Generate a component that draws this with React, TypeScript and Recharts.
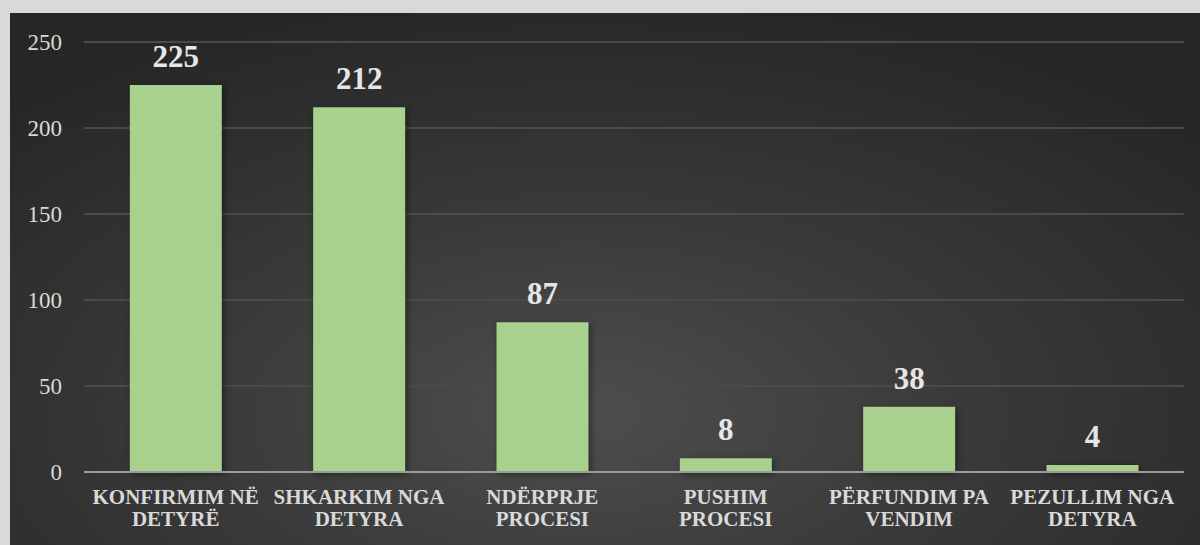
import { BarChart, Bar, XAxis, YAxis, CartesianGrid, LabelList } from "recharts";

const categories = [
  "KONFIRMIM NË DETYRË",
  "SHKARKIM NGA DETYRA",
  "NDËRPRJE PROCESI",
  "PUSHIM PROCESI",
  "PËRFUNDIM PA VENDIM",
  "PEZULLIM NGA DETYRA",
];
const counts = [225, 212, 87, 8, 38, 4];
const yTicks = [0, 50, 100, 150, 200, 250];

const data = categories.map((name, i) => ({ name, value: counts[i] }));

const serif = "'Liberation Serif', 'Times New Roman', serif";

// split the label at the last space, like Excel wraps it
function CategoryTick(props: any) {
  const { x, y, payload } = props;
  const text: string = payload.value;
  const cut = text.lastIndexOf(" ");
  const lines = [text.slice(0, cut), text.slice(cut + 1)];
  return (
    <text
      x={x}
      y={y + 24}
      textAnchor="middle"
      fill="#d9d9d9"
      fontFamily={serif}
      fontWeight="bold"
      fontSize={21}
    >
      {lines.map((l, i) => (
        <tspan key={i} x={x} dy={i === 0 ? 0 : 22}>
          {l}
        </tspan>
      ))}
    </text>
  );
}

export default function App() {
  return (
    <div
      style={{
        position: "fixed",
        left: 0,
        top: 0,
        width: 1200,
        height: 545,
        background: "#d9d9d9",
      }}
    >
      <div
        style={{
          position: "absolute",
          left: 10,
          top: 13,
          width: 1190,
          height: 532,
          background:
            "radial-gradient(ellipse 70% 80% at 48% 75%, #4e4e4e 0%, #3a3a3a 45%, #262626 100%)",
        }}
      >
        <BarChart
          width={1190}
          height={532}
          data={data}
          margin={{ top: 29, right: 16, bottom: 0, left: 0 }}
          barCategoryGap="25%"
        >
          <CartesianGrid vertical={false} stroke="#4a4a4a" strokeWidth={2} />
          <XAxis
            dataKey="name"
            interval={0}
            tickLine={false}
            axisLine={{ stroke: "#9a9a9a", strokeWidth: 2 }}
            tick={<CategoryTick />}
            height={73}
          />
          <YAxis
            width={74}
            domain={[0, 250]}
            ticks={yTicks}
            axisLine={false}
            tickLine={false}
            tickMargin={16}
            tick={{ fill: "#d9d9d9", fontFamily: serif, fontSize: 23 }}
          />
          <Bar
            dataKey="value"
            fill="#a9d18e"
            isAnimationActive={false}
            style={{ filter: "drop-shadow(2px 2px 3px rgba(0,0,0,0.45))" }}
          >
            <LabelList
              dataKey="value"
              position="top"
              offset={18}
              fill="#e6e6e6"
              fontFamily={serif}
              fontWeight="bold"
              fontSize={31}
            />
          </Bar>
        </BarChart>
      </div>
    </div>
  );
}
